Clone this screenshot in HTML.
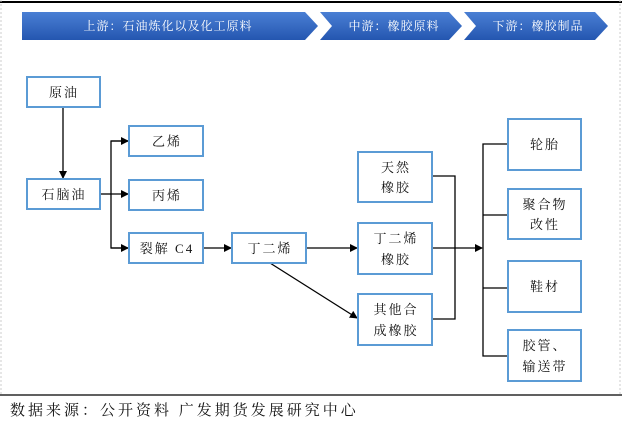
<!DOCTYPE html>
<html><head><meta charset="utf-8"><style>
html,body{margin:0;padding:0;background:#fff;}
body{width:622px;height:422px;overflow:hidden;position:relative;font-family:"Liberation Sans","Noto Serif CJK SC","Noto Sans CJK SC",sans-serif;}
svg{position:absolute;left:0;top:0;}
.foot{position:absolute;left:10px;top:399px;font-size:15px;letter-spacing:3px;color:#111;font-family:"Liberation Serif","Noto Serif CJK SC",serif;white-space:nowrap;}
</style></head><body>
<svg width="622" height="422" viewBox="0 0 622 422">
<defs>
<linearGradient id="g" x1="0" y1="0" x2="0" y2="1"><stop offset="0" stop-color="#4a7fd4"/><stop offset="1" stop-color="#2456b0"/></linearGradient>
<marker id="a" markerWidth="8" markerHeight="8" refX="7" refY="4" orient="auto" markerUnits="userSpaceOnUse"><path d="M0,0 L8,4 L0,8 Z" fill="#000"/></marker>
</defs>
<line x1="0" y1="2" x2="622" y2="2" stroke="#000" stroke-width="2"/>
<line x1="1" y1="0" x2="1" y2="395" stroke="#ccc" stroke-dasharray="2,2"/>
<line x1="620" y1="0" x2="620" y2="395" stroke="#ccc" stroke-dasharray="2,2"/>
<polygon points="22,12 305,12 318,26 305,40 22,40" fill="url(#g)"/>
<polygon points="320,12 449,12 462,26 449,40 320,40 332,26" fill="url(#g)"/>
<polygon points="464,12 595,12 608,26 595,40 464,40 476,26" fill="url(#g)"/>
<g fill="#fff" font-size="12" letter-spacing="1" text-anchor="middle" font-family="Liberation Serif,'Noto Serif CJK SC',serif">
<text x="168" y="30">上游：石油炼化以及化工原料</text>
<text x="394" y="30">中游：橡胶原料</text>
<text x="538" y="30">下游：橡胶制品</text>
</g>
<g fill="none" stroke="#000" stroke-width="1.3">
<line x1="63" y1="107" x2="63" y2="178" marker-end="url(#a)"/>
<polyline points="100,194 111,194"/>
<polyline points="128,141 111,141 111,248 128,248"/>
<line x1="111" y1="141" x2="128" y2="141" marker-end="url(#a)"/>
<line x1="111" y1="194" x2="128" y2="194" marker-end="url(#a)"/>
<line x1="111" y1="248" x2="128" y2="248" marker-end="url(#a)"/>
<line x1="203" y1="248" x2="231" y2="248" marker-end="url(#a)"/>
<line x1="306" y1="248" x2="357" y2="248" marker-end="url(#a)"/>
<line x1="270" y1="263" x2="357" y2="318" marker-end="url(#a)"/>
<polyline points="432,176 455,176 455,319 432,319"/>
<line x1="432" y1="248" x2="482" y2="248" marker-end="url(#a)"/>
<polyline points="508,144 483,144 483,356 508,356"/>
<line x1="483" y1="215" x2="508" y2="215"/>
<line x1="483" y1="288" x2="508" y2="288"/>
</g>
<g fill="#fff" stroke="#5b9bd5" stroke-width="2">
<rect x="27" y="77" width="73" height="30"/>
<rect x="27" y="179" width="73" height="30"/>
<rect x="129" y="126" width="74" height="30"/>
<rect x="129" y="180" width="74" height="30"/>
<rect x="129" y="233" width="74" height="30"/>
<rect x="232" y="233" width="74" height="30"/>
<rect x="358" y="152" width="74" height="50"/>
<rect x="358" y="223" width="74" height="51"/>
<rect x="358" y="294" width="74" height="51"/>
<rect x="508" y="119" width="73" height="51"/>
<rect x="508" y="189" width="73" height="50"/>
<rect x="508" y="261" width="73" height="51"/>
<rect x="508" y="330" width="73" height="51"/>
</g>
<g fill="#111" font-size="13" letter-spacing="2" text-anchor="middle" font-family="Liberation Serif,'Noto Serif CJK SC',serif">
<text x="64" y="97">原油</text>
<text x="64" y="199">石脑油</text>
<text x="167" y="146">乙烯</text>
<text x="167" y="200">丙烯</text>
<text x="167" y="253">裂解 C4</text>
<text x="270" y="253">丁二烯</text>
<text x="396" y="172">天然</text><text x="396" y="192">橡胶</text>
<text x="396" y="243">丁二烯</text><text x="396" y="264">橡胶</text>
<text x="396" y="314">其他合</text><text x="396" y="335">成橡胶</text>
<text x="545" y="149">轮胎</text>
<text x="545" y="209">聚合物</text><text x="545" y="229">改性</text>
<text x="545" y="291">鞋材</text>
<text x="545" y="350">胶管、</text><text x="545" y="371">输送带</text>
</g>
<line x1="0" y1="395" x2="622" y2="395" stroke="#000" stroke-width="1.3"/>
</svg>
<div class="foot">数据来源：公开资料 广发期货发展研究中心</div>
</body></html>
